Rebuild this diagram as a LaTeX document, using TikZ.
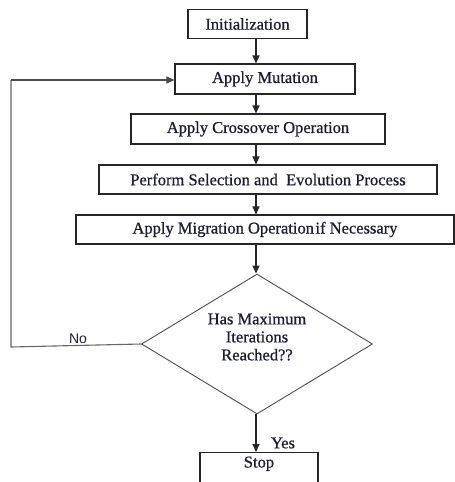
\documentclass[tikz,border=0pt]{standalone}
\usepackage{fontspec}
\setmainfont{Liberation Serif}
\newfontfamily\diafont{Liberation Serif}[FakeBold=0.7]
\newfontfamily\nofont{Liberation Sans}
\usetikzlibrary{shapes.geometric,arrows.meta}
\definecolor{ink}{HTML}{1C1C34}
\begin{document}
\begin{tikzpicture}[x=1pt,y=-1pt,
  every node/.style={font=\diafont\fontsize{16.5}{18}\selectfont, text=ink},
  box/.style={draw=black!85, line width=1.1pt, rectangle, inner sep=0pt},
  decision/.style={draw=black!70, line width=0.9pt, diamond, inner sep=0pt, aspect=1.65},
  arr/.style={draw=black!85, line width=1.1pt, -{Triangle[width=7pt,length=8pt]}},
  loopline/.style={draw=black!60, line width=1.1pt}]
\clip (0,0) rectangle (455,482);
\node[box, minimum width=119pt, minimum height=29pt] (init) at (247.5,24) {Initialization};
\node[box, minimum width=180pt, minimum height=30pt] (mut) at (265,79) {Apply Mutation};
\node[box, minimum width=254pt, minimum height=30pt] (cross) at (258,129) {Apply Crossover Operation};
\node[box, minimum width=338pt, minimum height=29pt] (sel) at (268,179.5) {Perform Selection and\ \ Evolution Process};
\node[box, minimum width=378pt, minimum height=29pt] (mig) at (265,229.5) {Apply Migration Operation\hspace{1.5pt}if Necessary};
\node[decision, minimum width=231pt, minimum height=140pt] (dec) at (257,344) {};
\node[align=center, inner sep=0pt] (dectext) at (257,337) {Has Maximum\\Iterations\\Reached??};
\node[box, anchor=north, minimum width=118pt, inner ysep=4pt, text depth=34pt] (stop) at (259,452) {Stop};
\coordinate (ax) at (256,0);
\draw[arr] (init.south -| ax) -- (mut.north -| ax);
\draw[arr] (mut.south -| ax) -- (cross.north -| ax);
\draw[arr] (cross.south -| ax) -- (sel.north -| ax);
\draw[arr] (sel.south -| ax) -- (mig.north -| ax);
\draw[arr] (mig.south -| ax) -- (dec.north -| ax);
\draw[arr] (dec.south -| ax) -- (stop.north -| ax);
\coordinate (c1) at (11,347);
\coordinate (c2) at (11,80);
\draw[loopline] (dec.west) -- (c1) -- (c2);
\draw[arr, draw=black!70] (c2) -- (c2 -| mut.west);
\node[font=\nofont\fontsize{14}{16}\selectfont] (no) at (78,339) {No};
\node (yes) at (283,443) {Yes};
\end{tikzpicture}
\end{document}
